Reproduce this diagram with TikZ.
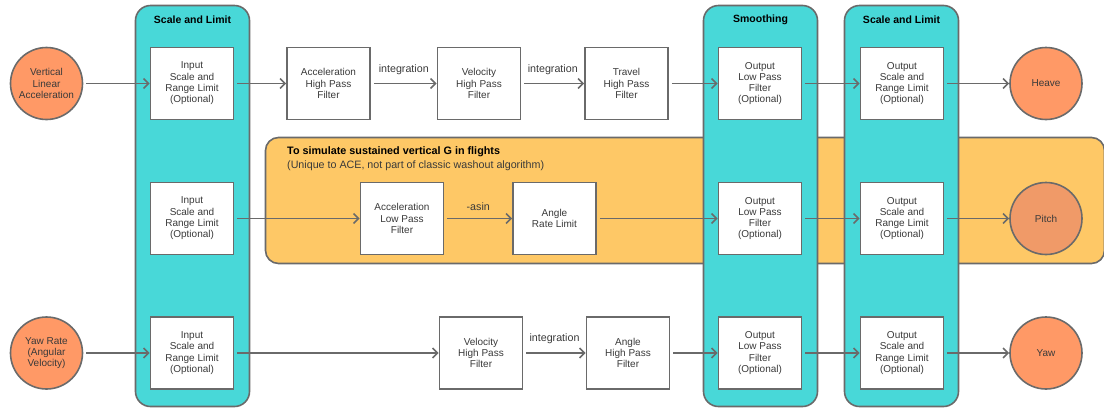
\documentclass[tikz,border=0pt]{standalone}
\usepackage{fontspec}
\setmainfont{Liberation Sans}
\usetikzlibrary{arrows.meta}

\definecolor{boxline}{HTML}{6A6A6A}
\definecolor{grpcyan}{HTML}{48D8D8}
\definecolor{bandorange}{HTML}{FEC866}
\definecolor{dotorange}{HTML}{FF9966}
\definecolor{pitchorange}{HTML}{F09A68}
\definecolor{txt}{HTML}{3A3A3A}

\def\bodyfont{\fontsize{10}{11.3}\selectfont}
\def\edgefont{\fontsize{10.7}{12}\selectfont}

\tikzset{
  block/.style={draw=boxline, line width=1.6pt, fill=white, minimum width=83pt,
                minimum height=72pt, inner sep=0pt, align=center, text=txt, font=\bodyfont},
  io/.style={circle, draw=boxline, line width=1.6pt, fill=dotorange, minimum size=72pt,
             inner sep=0pt, align=center, text=txt, font=\bodyfont},
  group/.style={draw=boxline, line width=1.6pt, fill=grpcyan, rounded corners=15pt,
                minimum width=114pt, minimum height=401pt, inner sep=0pt},
  band/.style={draw=boxline, line width=1.6pt, fill=bandorange, rounded corners=13pt,
               minimum width=839pt, minimum height=126pt, inner sep=0pt},
  title/.style={font=\bfseries\fontsize{10.5}{12}\selectfont, text=black, inner sep=0pt},
  lbl/.style={font=\edgefont, text=txt, inner sep=0pt},
  flow/.style={draw=boxline, line width=1.6pt, shorten <=3pt,
               -{Straight Barb[length=5pt,width=10pt]}}
}

\begin{document}
\begin{tikzpicture}[x=1pt, y=-1pt]
  \useasboundingbox (0,0) rectangle (1104,408);

  % sustained-G path background
  \node[band] (gband) at (685,200.5) {};
  \node[title, font=\bfseries\fontsize{10.8}{12}\selectfont, anchor=west] (gtitle) at (287,152)
    {To simulate sustained vertical G in flights};
  \node[lbl, anchor=west] (gnote) at (287,166)
    {(Unique to ACE, not part of classic washout algorithm)};

  % stage groups
  \node[group] (gin) at (192.5,206) {};
  \node[group] (gsmooth) at (760.5,206) {};
  \node[group] (gout) at (901.5,206) {};
  \node[title] at (192.5,20) {Scale and Limit};
  \node[title] at (760.5,20) {Smoothing};
  \node[title] at (901.5,20) {Scale and Limit};

  % heave row
  \node[io] (vla) at (46.5,83.5) {Vertical\\Linear\\Acceleration};
  \node[block] (in1) at (192,83.5) {Input\\Scale and\\Range Limit\\(Optional)};
  \node[block] (acchp) at (328.5,83.5) {Acceleration\\High Pass\\Filter};
  \node[block] (velhp) at (479,83.5) {Velocity\\High Pass\\Filter};
  \node[block] (travhp) at (626.5,83.5) {Travel\\High Pass\\Filter};
  \node[block] (lp1) at (760,83.5) {Output\\Low Pass\\Filter\\(Optional)};
  \node[block] (out1) at (902,83.5) {Output\\Scale and\\Range Limit\\(Optional)};
  \node[io] (heave) at (1046,83.5) {Heave};

  % pitch row
  \node[block] (in2) at (192,218.5) {Input\\Scale and\\Range Limit\\(Optional)};
  \node[block] (acclp) at (402,218.5) {Acceleration\\Low Pass\\Filter};
  \node[block] (rate) at (554.5,218.5) {Angle\\Rate Limit};
  \node[block] (lp2) at (760,218.5) {Output\\Low Pass\\Filter\\(Optional)};
  \node[block] (out2) at (902,218.5) {Output\\Scale and\\Range Limit\\(Optional)};
  \node[io, fill=pitchorange] (pitch) at (1046,218.5) {Pitch};

  % yaw row
  \node[io] (yawrate) at (46.5,353) {Yaw Rate\\(Angular\\Velocity)};
  \node[block] (in3) at (192,353) {Input\\Scale and\\Range Limit\\(Optional)};
  \node[block] (velhp3) at (481,353) {Velocity\\High Pass\\Filter};
  \node[block] (anghp) at (628,353) {Angle\\High Pass\\Filter};
  \node[block] (lp3) at (760,353) {Output\\Low Pass\\Filter\\(Optional)};
  \node[block] (out3) at (902,353) {Output\\Scale and\\Range Limit\\(Optional)};
  \node[io] (yaw) at (1046,353) {Yaw};

  \draw[flow] (vla) -- (in1);
  \draw[flow] (in1) -- (acchp);
  \draw[flow] (acchp) -- node[lbl, above=8pt] {integration} (velhp);
  \draw[flow] (velhp) -- node[lbl, above=8pt] {integration} (travhp);
  \draw[flow] (travhp) -- (lp1);
  \draw[flow] (lp1) -- (out1);
  \draw[flow] (out1) -- (heave);

  \draw[flow] (in2) -- (acclp);
  \draw[flow] (acclp) -- node[lbl, above=7pt] {-asin} (rate);
  \draw[flow] (rate) -- (lp2);
  \draw[flow] (lp2) -- (out2);
  \draw[flow] (out2) -- (pitch);

  \draw[flow] (yawrate) -- (in3);
  \draw[flow] (in3) -- (velhp3);
  \draw[flow] (velhp3) -- node[lbl, above=8pt] {integration} (anghp);
  \draw[flow] (anghp) -- (lp3);
  \draw[flow] (lp3) -- (out3);
  \draw[flow] (out3) -- (yaw);
\end{tikzpicture}
\end{document}
